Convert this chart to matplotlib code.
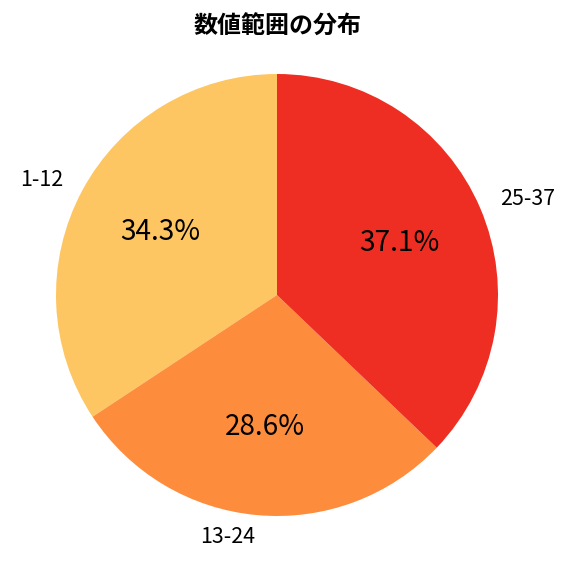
import matplotlib
matplotlib.use('Agg')
import matplotlib.pyplot as plt

plt.rcParams['font.family'] = ['Noto Sans CJK JP', 'DejaVu Sans']

labels = ['1-12', '13-24', '25-37']
counts = [12, 10, 13]
colors = ['#FEC662', '#FD8C3C', '#EE2E22']

W = 576.0
fig = plt.figure(figsize=(6, 6), dpi=96)
# square axes, pie radius ~221px centred at (277, 295)
size = 552.5
ax = fig.add_axes([(277 - size / 2) / W, (W - 295 - size / 2) / W, size / W, size / W])
wedges, texts, autotexts = ax.pie(counts, labels=labels, colors=colors,
                                  autopct='%1.1f%%', startangle=90,
                                  textprops={'fontsize': 16})
for t in autotexts:
    t.set_fontsize(21)
ax.set_xlim(-1.25, 1.25)
ax.set_ylim(-1.25, 1.25)
ax.set_aspect('equal')
fig.text(277 / W, 1 - 27 / W, '数値範囲の分布', fontsize=18, fontweight='bold',
         ha='center', va='center')
plt.savefig('out.png')
